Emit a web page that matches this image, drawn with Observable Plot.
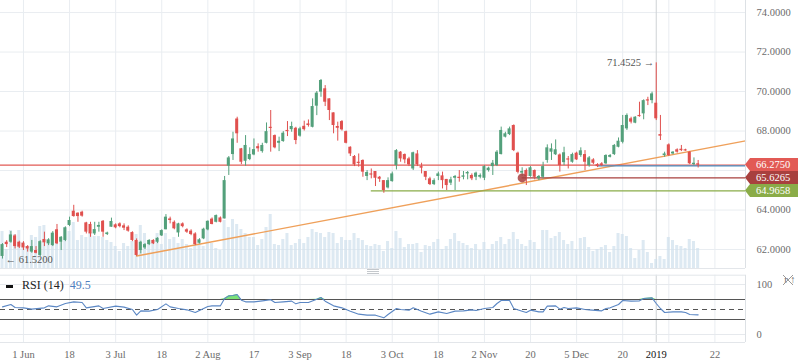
<!DOCTYPE html>
<html><head><meta charset="utf-8">
<script src="https://cdn.jsdelivr.net/npm/d3@7"></script>
<script src="https://cdn.jsdelivr.net/npm/@observablehq/plot@0.6"></script>
<style>
body{margin:0;background:#fff;}
#wrap{position:relative;width:798px;height:363px;overflow:hidden;font-family:"Liberation Serif",serif;background:#fff;}
#wrap .panel{position:absolute;left:0;}
#legend{position:absolute;left:6px;top:278px;font-size:12px;color:#222;white-space:nowrap;}
#legend .dash{display:inline-block;width:7px;height:3px;background:#111;vertical-align:middle;margin-right:9px;}
#legend .val{color:#4f7fbf;margin-left:6px;}
#deco{position:absolute;left:0;top:0;pointer-events:none;}
</style></head><body><div id="wrap"></div>
<script>
// ---- data (trading-day index based) ----
const open  = [61.65,62.37,62.37,62.69,62.37,62.32,62.15,61.87,61.95,61.70,62.51,62.29,62.20,63.00,62.37,62.46,63.22,63.94,63.84,63.89,63.35,63.27,62.79,63.13,63.43,62.76,63.13,63.25,63.30,63.20,63.13,62.86,62.46,61.95,62.08,62.25,62.46,62.37,62.69,63.00,63.55,63.38,62.84,63.30,63.00,62.93,62.79,62.32,62.54,62.99,63.54,63.38,63.60,63.55,66.22,66.81,68.61,67.10,66.47,66.56,66.79,67.21,66.96,67.38,68.19,67.77,67.38,67.47,68.03,68.07,68.14,67.74,68.24,68.36,68.19,69.26,69.97,70.14,69.63,68.92,68.23,68.48,67.97,67.18,66.71,66.42,66.51,65.70,65.83,65.95,65.66,65.49,65.12,65.44,66.25,66.93,66.81,66.59,66.08,66.84,66.20,65.95,65.58,65.29,65.70,65.73,65.55,65.36,65.61,65.66,65.66,65.83,65.75,65.66,65.66,65.61,66.00,66.20,66.25,66.81,67.69,67.82,68.28,66.88,65.87,66.00,65.70,66.00,65.58,65.66,66.51,66.93,66.80,66.79,66.40,66.59,66.42,66.88,66.76,66.81,66.25,66.54,66.30,66.34,66.34,66.67,66.81,67.18,67.43,68.11,68.62,68.40,68.79,68.87,69.58,69.54,69.41,67.82,66.76,67.30,66.84,67.05,67.08,67.05,66.93,66.30,66.34];
const high  = [62.30,62.45,62.91,62.75,62.42,62.40,62.20,62.46,62.15,62.45,62.88,62.55,62.91,63.27,62.66,63.15,63.64,64.24,63.86,63.94,63.38,63.38,63.38,63.38,63.47,62.88,63.59,63.30,63.35,63.30,63.20,62.90,62.54,62.42,62.30,62.50,62.50,62.60,63.00,63.77,63.64,63.45,63.33,63.35,63.05,63.00,62.85,62.55,63.08,63.45,63.60,63.75,63.65,65.70,66.71,67.94,68.70,67.12,67.77,67.15,67.60,67.35,67.38,68.41,69.04,67.80,67.69,67.97,68.48,68.45,68.19,68.19,68.50,68.56,69.63,70.00,70.61,70.30,69.63,68.92,68.45,68.53,68.00,67.20,66.76,66.84,66.54,66.00,66.08,65.95,65.70,65.49,65.63,65.92,67.06,66.96,66.84,66.67,66.93,67.01,66.37,65.95,65.66,65.58,65.92,65.92,65.55,65.66,65.75,66.00,65.95,65.95,65.83,65.92,65.83,66.25,66.17,66.51,67.01,68.20,67.94,68.20,68.31,66.93,66.14,66.08,66.20,66.03,65.75,66.42,67.30,67.35,67.55,66.84,67.18,66.71,66.88,66.93,67.15,67.01,66.71,66.60,66.35,66.40,66.80,66.81,67.32,67.65,68.79,68.87,68.70,68.73,69.46,69.58,69.71,69.97,71.4525,68.79,66.93,67.35,66.96,67.10,67.27,67.08,66.96,66.64,66.51];
const low   = [61.52,62.10,62.32,62.03,62.05,61.95,61.87,61.81,61.78,61.65,62.15,62.20,62.15,62.25,61.95,62.40,63.16,63.64,63.38,63.64,62.79,62.62,62.71,62.88,62.62,62.71,63.13,63.05,63.10,62.96,62.88,62.40,61.65,61.78,62.00,62.20,62.25,62.30,62.66,63.00,63.30,63.00,62.62,63.10,62.82,62.70,62.20,62.28,62.50,62.95,63.25,63.35,63.35,63.55,65.75,66.51,67.38,66.30,66.22,66.50,66.75,66.93,66.88,67.35,66.93,67.10,66.96,67.43,67.72,67.94,67.31,67.69,68.00,68.20,68.16,68.78,69.71,69.24,68.53,67.86,67.49,68.00,67.35,66.71,66.20,66.17,65.66,65.49,65.58,65.19,65.40,64.85,65.07,65.41,66.03,66.42,66.34,66.20,66.00,66.20,65.83,65.49,65.24,65.24,65.49,65.07,64.99,65.24,64.99,65.41,65.53,65.53,65.49,65.49,65.58,65.49,65.92,65.75,66.20,66.79,67.65,67.77,66.96,65.83,65.70,65.24,65.66,65.53,65.49,65.58,66.37,66.51,66.76,65.92,66.25,66.08,66.37,66.51,66.67,66.00,66.17,66.30,66.15,66.20,66.30,66.64,66.76,67.15,67.35,68.03,68.36,68.37,68.70,68.57,69.29,69.38,68.53,67.52,66.67,66.71,66.80,66.88,66.96,66.98,66.30,66.25,66.13];
const close = [62.25,62.25,62.74,62.15,62.12,62.08,62.03,62.15,61.81,62.40,62.34,62.49,62.83,62.29,62.62,63.10,63.47,63.67,63.67,63.69,62.88,62.79,63.01,63.22,62.88,62.84,63.42,63.10,63.16,63.08,62.93,62.46,61.70,62.37,62.25,62.46,62.29,62.57,62.96,63.64,63.47,63.05,63.30,63.16,62.88,62.76,62.25,62.49,63.03,63.43,63.27,63.72,63.38,65.49,66.64,67.60,67.86,66.42,67.27,66.81,67.06,67.10,67.27,67.97,68.14,67.15,67.48,67.89,67.97,68.23,67.52,68.11,68.07,68.28,69.24,69.92,70.56,69.46,69.04,68.28,68.14,68.06,67.38,66.84,66.29,66.39,65.92,65.90,65.80,65.61,65.56,64.99,65.49,65.83,67.01,66.59,66.54,66.29,66.90,66.29,66.12,65.66,65.29,65.49,65.83,65.49,65.24,65.53,65.70,65.63,65.73,65.90,65.58,65.87,65.75,66.20,66.12,66.37,66.93,68.03,67.86,68.11,67.01,65.91,65.95,65.70,66.14,65.66,65.70,66.20,67.15,67.10,67.05,66.25,66.90,66.54,66.81,66.54,67.00,66.42,66.64,66.37,66.20,66.25,66.76,66.76,67.27,67.485,68.28,68.79,68.45,68.70,68.73,69.54,69.54,69.88,68.62,67.74,66.84,66.76,66.93,66.93,67.01,67.01,66.34,66.37,66.275];
const volume = [37,19,38,34,38,26,22,33,31,42,43,25,28,36,26,41,37,46,28,33,31,36,32,32,31,28,26,22,17,25,22,27,34,43,35,25,28,35,24,35,29,31,25,29,24,20,25,29,22,38,25,20,18,48,41,49,44,39,35,31,31,23,29,41,54,24,23,29,35,23,25,29,25,31,39,36,35,31,36,35,25,31,28,28,35,30,28,23,22,24,23,17,27,20,37,30,21,24,24,25,16,23,22,26,29,19,22,29,35,27,25,23,20,24,18,26,19,24,27,31,24,29,36,29,24,22,28,26,19,38,38,30,32,36,28,24,27,19,30,31,21,17,19,21,23,16,22,35,34,32,20,10,18,28,16,5,9,12,9,31,28,23,22,20,29,27,20];
const rsiIdx = [0,2,3,5,7,10,11,13,15,17,19,20,23,24,27,29,31,32,33,35,37,39,40,42,44,46,47,49,50,52,53,54,55,56,57,58,60,62,64,65,67,69,70,71,73,75,76,77,79,81,83,85,87,89,91,92,94,95,97,98,100,102,104,106,108,110,112,113,115,117,118,119,121,122,124,125,126,128,129,130,132,133,134,135,137,139,140,143,144,145,147,148,150,152,153,155,156,157,158,160,162,163,164,166];
const rsiVal = [55.3,60,54,53.3,50.7,53.3,57.3,55.3,62,65.3,64,53.3,57.3,52,56.7,54.7,50,38.7,47.3,46.7,50,61.3,55.3,52,49.3,44,48,56,57.3,57.3,72,77.3,78,80,68.7,65.3,65.3,67.3,69.5,64,65.3,66.7,61.3,64,64,70.7,74,66.7,57.3,53.3,46.7,40.7,38.7,38.7,33.3,40,52,50,48.7,53.3,46.7,40.7,45.3,42,46.7,47.3,49.3,48,52,54,62,68,68,52,46.7,44,48.7,45.3,45.3,56.7,57.3,50.7,54,52,53.3,50,49.3,47.3,52,53.3,60,68,66.7,67.3,72,73.3,62,52,44,45.3,45.3,44,40,39.3];
const rsiLast = 49.5;
const tickIdx = [5,16,27,38,49,60,71,82,93,104,115,126,137,148,159,170];
const tickLabels = ["1 Jun","18","3 Jul","18","2 Aug","17","3 Sep","18","3 Oct","18","2 Nov","20","5 Dec","20","","22"];
const yearIdx = 156, yearLabel = "2019";
const priceGrid = [62,64,66,68,70,72,74];
const priceLabels = [62,64,68,70,72,74]; // 66 is hidden behind the price tags
const trendIdx = [32,177.3], trendPrice = [61.67,67.50];
const levelPrice = [66.275, 65.6265, 64.9658];
const levelStart = [-0.48, 124, 88];
const bluePrice = 66.24, blueStart = 142;
const rsiLevels = [30,70], rsiMid = 50, rsiBounds = [0,100];

// ---- styles ----
const UP="#53a07b", DN="#e0504e";
const LEVEL_COL=["#e25a55","#a8403e","#8aac48"];
const xDomain=[-0.48,177.3];
const yDomain=[61.04,74.61];
const pxPerPrice = 268/(yDomain[1]-yDomain[0]);
const FONT='"Liberation Serif", serif';

const candles = open.map((o,i)=>{
  const c=close[i]; const up=c>=o;
  const c2 = Math.abs(c-o)<0.06 ? o+(up?0.06:-0.06) : c;
  return {i,o,h:high[i],l:low[i],c,c2,up};
});
const vols = volume.map((v,i)=>({i,v}));
const trend = trendIdx.map((d,k)=>({i:d,p:trendPrice[k]}));
const levels = levelPrice.map((p,k)=>({p,x1:levelStart[k],x2:xDomain[1],k}));

const main = Plot.plot({
  width:798, height:270, marginLeft:0, marginRight:53, marginTop:0, marginBottom:2,
  style:{fontFamily:FONT, fontSize:"10.5px", color:"#6b6b6b", background:"transparent", overflow:"visible"},
  x:{domain:xDomain, axis:null},
  y:{domain:yDomain, axis:null},
  marks:[
    Plot.ruleY(priceGrid,{stroke:"#e9edf1"}),
    Plot.ruleX(tickIdx,{stroke:"#e9edf1"}),
    Plot.ruleX([yearIdx],{stroke:"#cfd2d6"}),
    Plot.rect(vols,{x1:d=>d.i-0.36,x2:d=>d.i+0.36,y1:yDomain[0],y2:d=>yDomain[0]+d.v/pxPerPrice,fill:"#cfdfed",fillOpacity:0.7}),
    Plot.ruleY([yDomain[0]],{stroke:"#e3e6ea"}),
    Plot.line(trend,{x:"i",y:"p",stroke:"#ef a05a".replace(" ",""),strokeWidth:1.4}),
    Plot.ruleY(levels.filter(d=>d.k===2),{y:"p",x1:"x1",x2:"x2",stroke:LEVEL_COL[2],strokeWidth:1.3}),
    Plot.ruleY(levels.filter(d=>d.k===1),{y:"p",x1:"x1",x2:"x2",stroke:LEVEL_COL[1],strokeWidth:1.3}),
    Plot.ruleY(levels.filter(d=>d.k===0),{y:"p",x1:"x1",x2:"x2",stroke:LEVEL_COL[0],strokeWidth:1.3}),
    Plot.ruleY([{p:bluePrice}],{y:"p",x1:blueStart,x2:xDomain[1],stroke:"#4a8fc2",strokeWidth:1.2}),
    Plot.ruleX(candles.filter(d=>d.up),{x:"i",y1:"l",y2:"h",stroke:UP,strokeWidth:1}),
    Plot.ruleX(candles.filter(d=>!d.up),{x:"i",y1:"l",y2:"h",stroke:DN,strokeWidth:1}),
    Plot.rect(candles.filter(d=>d.up),{x1:d=>d.i-0.36,x2:d=>d.i+0.36,y1:"o",y2:"c2",fill:UP}),
    Plot.rect(candles.filter(d=>!d.up),{x1:d=>d.i-0.36,x2:d=>d.i+0.36,y1:"o",y2:"c2",fill:DN}),
    Plot.dot([{i:levelStart[1],p:levelPrice[1]}],{x:"i",y:"p",r:4.5,fill:LEVEL_COL[1],fillOpacity:0.85,stroke:"none"}),
    Plot.text([{i:yearIdx,p:high[yearIdx]}],{x:"i",y:"p",text:d=>d.p.toFixed(4)+" \u2192",textAnchor:"end",dx:-2,fill:"#555",fontSize:10.5}),
    Plot.text([{i:0,p:low[0]}],{x:"i",y:"p",text:d=>"\u2190 "+d.p.toFixed(4),textAnchor:"start",dx:3,dy:1,fill:"#555",fontSize:10.5}),
    Plot.ruleX([xDomain[1]],{stroke:"#dde1e5"}),
    Plot.axisY({anchor:"right",ticks:priceLabels,tickFormat:d=>d.toFixed(4),tickSize:0,tickPadding:11,fill:"#6b6b6b"})
  ]
});

const rsiPts = rsiIdx.map((d,k)=>({i:d,r:rsiVal[k]}));
const xl = tickIdx.map((d,k)=>({i:d,t:tickLabels[k]}));
const rsiPlot = Plot.plot({
  width:798, height:91, marginLeft:0, marginRight:53, marginTop:2.7, marginBottom:21,
  style:{fontFamily:FONT, fontSize:"10.5px", color:"#6b6b6b", background:"transparent", overflow:"visible"},
  x:{domain:xDomain, axis:null},
  y:{domain:[-16,118.6], axis:null},
  marks:[
    Plot.ruleX(tickIdx,{stroke:"#e9edf1"}),
    Plot.ruleX([yearIdx],{stroke:"#cfd2d6",y1:-16,y2:118.6}),
    Plot.ruleY(rsiBounds,{stroke:"#e6e9ed"}),
    Plot.ruleY([118.6,-16],{stroke:"#e3e6ea"}),
    Plot.ruleY(rsiLevels,{stroke:"#555",strokeWidth:1}),
    Plot.ruleY([rsiMid],{stroke:"#555",strokeDasharray:"5,4",strokeWidth:1}),
    Plot.areaY(rsiPts,{x:"i",y1:70,y2:d=>Math.max(70,d.r),fill:"#74e070",fillOpacity:0.95}),
    Plot.lineY(rsiPts,{x:"i",y:"r",stroke:"#5b87c4",strokeWidth:1.1}),
    Plot.ruleX([xDomain[1]],{stroke:"#dde1e5"}),
    Plot.axisY({anchor:"right",ticks:rsiBounds,tickSize:0,tickPadding:11,fill:"#6b6b6b"}),
    Plot.text(xl,{x:"i",text:"t",frameAnchor:"bottom",dy:12.5,lineAnchor:"middle",fill:"#6b6b6b",fontSize:10.5}),
    Plot.text([{i:yearIdx,t:yearLabel}],{x:"i",text:"t",frameAnchor:"bottom",dy:12.5,lineAnchor:"middle",fill:"#111",fontSize:10.5})
  ]
});

const wrap=document.getElementById("wrap");
const p1=document.createElement("div"); p1.className="panel"; p1.style.top="0px"; p1.appendChild(main); wrap.appendChild(p1);
const p2=document.createElement("div"); p2.className="panel"; p2.style.top="272px"; p2.appendChild(rsiPlot); wrap.appendChild(p2);

// price tags on right axis, positioned via the plot's y scale
const ys = main.scale("y");
const svg = d3.select(main);
const tagBg=["#e25a55","#a8403e","#8aac48"];
levelPrice.forEach((p,k)=>{
  const y=ys.apply(p);
  const g=svg.append("g");
  g.append("path").attr("d",`M745,${y} L750,${y-6.5} L798,${y-6.5} L798,${y+6.5} L750,${y+6.5} Z`).attr("fill",tagBg[k]);
  g.append("text").attr("x",756).attr("y",y).attr("dy","0.35em").attr("text-anchor","start")
    .attr("fill","#fff").attr("font-size",10.5).attr("font-family",FONT).text(p.toFixed(4));
});

// legend + decorations (drag handle and close icon drawn as shapes)
const lg=document.createElement("div"); lg.id="legend";
lg.innerHTML='<span class="dash"></span>RSI (14)<span class="val">'+rsiLast.toFixed(1)+'</span>';
wrap.appendChild(lg);
const deco=d3.select(wrap).append("svg").attr("id","deco").attr("width",798).attr("height",363);
[269,271,273].forEach(y=>deco.append("line").attr("x1",367).attr("x2",379).attr("y1",y+0.5).attr("y2",y+0.5).attr("stroke","#c4c8cc"));
deco.append("path").attr("d","M783,275 L793,285 M793,275 L783,285").attr("stroke","#9a9a9a").attr("stroke-width",1);
</script></body></html>
